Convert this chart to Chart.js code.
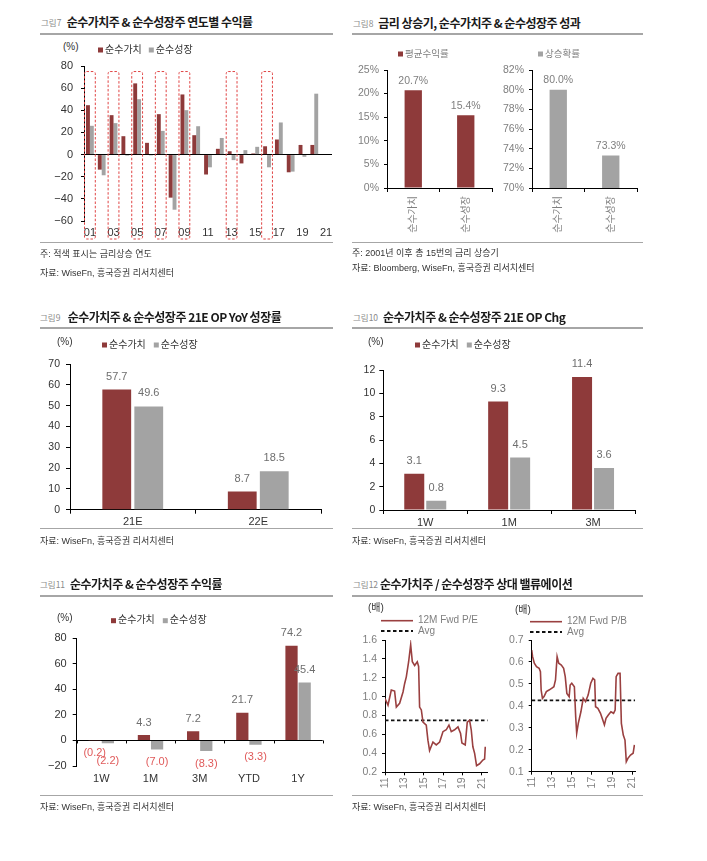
<!DOCTYPE html>
<html><head><meta charset="utf-8">
<script src="https://cdn.jsdelivr.net/npm/chart.js@4.4.0/dist/chart.umd.min.js"></script>
<style>
html,body{margin:0;padding:0;background:#fff;}
body{width:707px;height:861px;position:relative;overflow:hidden;font-family:"Liberation Sans","Noto Sans CJK KR",sans-serif;}
.t{position:absolute;white-space:nowrap;}
.fig{font-family:"Noto Sans CJK KR",sans-serif;font-size:8.5px;color:#8a8a8a;line-height:12px;height:12px;}
.ttl{font-family:"Noto Sans CJK KR",sans-serif;font-size:12px;font-weight:bold;color:#1a1a1a;line-height:16px;height:16px;letter-spacing:-0.5px;}
.note{font-family:"Liberation Sans","Noto Sans CJK KR",sans-serif;font-size:9px;color:#333;line-height:12px;height:12px;}
.unit{font-family:"Liberation Sans","Noto Sans CJK KR",sans-serif;font-size:10px;color:#333;line-height:12px;height:12px;}
.r2{position:absolute;height:2px;background:#a6a6a6;}
.r1{position:absolute;height:1px;background:#a6a6a6;}
canvas{position:absolute;}
</style></head>
<body>
<!-- Figure 7 -->
<div class="t fig" style="left:41px;top:15.7px">그림7</div>
<div class="t ttl" style="left:66.7px;top:13.7px">순수가치주 &amp; 순수성장주 연도별 수익률</div>
<div class="r2" style="left:40px;top:33.3px;width:293px"></div>
<div class="t unit" style="left:63px;top:40.7px">(%)</div>
<canvas id="c7" width="300" height="205" style="left:40px;top:40px"></canvas>
<div class="r1" style="left:40px;top:241.5px;width:293px"></div>
<div class="t note" style="left:40px;top:248.3px">주: 적색 표시는 금리상승 연도</div>
<div class="t note" style="left:40px;top:266.7px">자료: WiseFn, 흥국증권 리서치센터</div>

<!-- Figure 8 -->
<div class="t fig" style="left:353px;top:16.7px">그림8</div>
<div class="t ttl" style="left:378.3px;top:14.7px">금리 상승기, 순수가치주 &amp; 순수성장주 성과</div>
<div class="r2" style="left:352px;top:33.3px;width:291px"></div>
<canvas id="c8a" width="150" height="205" style="left:352px;top:40px"></canvas>
<canvas id="c8b" width="150" height="205" style="left:497px;top:40px"></canvas>
<div class="r1" style="left:352px;top:242px;width:291px"></div>
<div class="t note" style="left:352px;top:247.3px">주: 2001년 이후 총 15번의 금리 상승기</div>
<div class="t note" style="left:352px;top:262.3px">자료: Bloomberg, WiseFn, 흥국증권 리서치센터</div>

<!-- Figure 9 -->
<div class="t fig" style="left:40px;top:310.7px">그림9</div>
<div class="t ttl" style="left:67.7px;top:308.7px">순수가치주 &amp; 순수성장주 21E OP YoY 성장률</div>
<div class="r2" style="left:40px;top:326.7px;width:293px"></div>
<div class="t unit" style="left:57px;top:335.7px">(%)</div>
<canvas id="c9" width="295" height="200" style="left:40px;top:330px"></canvas>
<div class="r1" style="left:40px;top:527.5px;width:293px"></div>
<div class="t note" style="left:40px;top:534.7px">자료: WiseFn, 흥국증권 리서치센터</div>

<!-- Figure 10 -->
<div class="t fig" style="left:353px;top:310.7px">그림10</div>
<div class="t ttl" style="left:383px;top:308.7px">순수가치주 &amp; 순수성장주 21E OP Chg</div>
<div class="r2" style="left:352px;top:326.7px;width:291px"></div>
<div class="t unit" style="left:368px;top:335.7px">(%)</div>
<canvas id="c10" width="292" height="200" style="left:352px;top:330px"></canvas>
<div class="r1" style="left:352px;top:527.5px;width:291px"></div>
<div class="t note" style="left:352px;top:534.7px">자료: WiseFn, 흥국증권 리서치센터</div>

<!-- Figure 11 -->
<div class="t fig" style="left:40px;top:578px">그림11</div>
<div class="t ttl" style="left:70px;top:576px">순수가치주 &amp; 순수성장주 수익률</div>
<div class="r2" style="left:40px;top:594.7px;width:293px"></div>
<div class="t unit" style="left:57px;top:612px">(%)</div>
<canvas id="c11" width="295" height="190" style="left:40px;top:600px"></canvas>
<div class="r1" style="left:40px;top:795px;width:293px"></div>
<div class="t note" style="left:40px;top:801.3px">자료: WiseFn, 흥국증권 리서치센터</div>

<!-- Figure 12 -->
<div class="t fig" style="left:353px;top:578px">그림12</div>
<div class="t ttl" style="left:380px;top:576px">순수가치주 / 순수성장주 상대 밸류에이션</div>
<div class="r2" style="left:352px;top:594.7px;width:291px"></div>
<div class="t unit" style="left:368px;top:602.3px">(배)</div>
<div class="t unit" style="left:515px;top:604px">(배)</div>
<canvas id="c12a" width="145" height="195" style="left:352px;top:600px"></canvas>
<canvas id="c12b" width="150" height="195" style="left:497px;top:600px"></canvas>
<div class="r1" style="left:352px;top:795px;width:291px"></div>
<div class="t note" style="left:352px;top:801.3px">자료: WiseFn, 흥국증권 리서치센터</div>

<script>
// ---------- DATA ----------
// Figure 7: yearly returns (%)
const f7Years = ['01','02','03','04','05','06','07','08','09','10','11','12','13','14','15','16','17','18','19','20','21'];
const f7Value  = [44.6,-13.6,35.6,16.6,64.3,10.6,36.5,-38.9,54.3,17.5,-18,5.2,3,-8,1,7.5,13.6,-16,8.7,8.7,null];
const f7Growth = [26,-18.7,28.4,-1,50,-0.8,21.4,-49.8,40.1,25.6,-11.5,15,-5,4,7,-11.5,29,-15.4,-2,55,null];
const f7RateUpYears = ['01','03','05','07','09','13','16'];
const f7YTicks = [-60,-40,-20,0,20,40,60,80];

// Figure 8
const f8Cats = ['순수가치','순수성장'];
const f8AvgReturn = [20.7,15.4];
const f8UpProb = [80.0,73.3];

// Figure 9
const f9Cats = ['21E','22E'];
const f9Value = [57.7,8.7];
const f9Growth = [49.6,18.5];

// Figure 10
const f10Cats = ['1W','1M','3M'];
const f10Value = [3.1,9.3,11.4];
const f10Growth = [0.8,4.5,3.6];

// Figure 11
const f11Cats = ['1W','1M','3M','YTD','1Y'];
const f11Value = [-0.2,4.3,7.2,21.7,74.2];
const f11Growth = [-2.2,-7.0,-8.3,-3.3,45.4];

// Figure 12: relative valuation (value / growth), decimal years
const peDates = [2011.0,2011.31,2011.65,2011.99,2012.17,2012.51,2012.86,2013.03,2013.2,2013.44,2013.65,2013.82,2014.06,2014.33,2014.47,2014.57,2014.75,2014.92,2015.26,2015.43,2015.6,2015.95,2016.29,2016.64,2016.98,2017.32,2017.6,2017.84,2018.18,2018.53,2018.8,2018.94,2019.28,2019.49,2019.73,2019.9,2020.07,2020.25,2020.45,2020.76,2021.1,2021.28,2021.35];
const peValues = [0.98,0.91,1.07,1.06,0.89,0.93,1.05,1.14,1.21,1.37,1.55,1.37,1.33,1.37,1.32,0.89,0.86,0.73,0.70,0.54,0.43,0.52,0.49,0.52,0.63,0.65,0.70,0.63,0.65,0.68,0.61,0.51,0.49,0.73,0.75,0.65,0.47,0.40,0.27,0.29,0.33,0.34,0.47];
const peAvg = 0.75;
const pbDates = [2011.0,2011.09,2011.26,2011.48,2011.74,2011.87,2011.94,2012.07,2012.23,2012.46,2012.72,2012.98,2013.21,2013.37,2013.53,2013.69,2013.95,2014.18,2014.34,2014.5,2014.73,2014.83,2014.99,2015.25,2015.38,2015.48,2015.64,2015.9,2016.13,2016.36,2016.62,2016.88,2017.1,2017.27,2017.36,2017.59,2017.85,2018.08,2018.24,2018.4,2018.63,2018.89,2019.15,2019.31,2019.41,2019.6,2019.8,2019.93,2020.12,2020.29,2020.42,2020.58,2020.84,2021.1,2021.23];
const pbValues = [0.654,0.624,0.594,0.578,0.571,0.556,0.472,0.434,0.442,0.465,0.472,0.48,0.487,0.518,0.624,0.594,0.586,0.571,0.533,0.457,0.442,0.495,0.503,0.487,0.351,0.275,0.32,0.373,0.434,0.419,0.449,0.503,0.525,0.518,0.396,0.389,0.366,0.335,0.313,0.343,0.358,0.373,0.366,0.381,0.533,0.548,0.548,0.32,0.267,0.244,0.146,0.161,0.176,0.184,0.222];
const pbAvg = 0.425;
const valTickYears = [2011,2013,2015,2017,2019,2021];

// ---------- STYLE ----------
const RED = '#8E3A3A', GRAY = '#A3A3A3', LINE = '#9A4040';
const GTXT = '#7f7f7f', DTXT = '#333333', LBL = '#6e6e6e';
const FONT = '"Liberation Sans","Noto Sans CJK KR",sans-serif';

Chart.defaults.font.family = FONT;
Chart.defaults.animation = false;
Chart.defaults.responsive = false;
Chart.defaults.devicePixelRatio = 1;
Chart.defaults.plugins.legend.display = false;
Chart.defaults.plugins.tooltip.enabled = false;

// ---------- PLUGINS ----------
const legendPlugin = {
  id: 'customLegend',
  afterDraw(chart, args, o) {
    if (!o || !o.show) return;
    const ctx = chart.ctx;
    ctx.save();
    ctx.font = o.size + 'px ' + FONT;
    ctx.textBaseline = 'middle';
    ctx.textAlign = 'left';
    let x = o.x, y = o.y;
    chart.data.datasets.forEach(ds => {
      if (o.mode === 'line') {
        ctx.strokeStyle = ds.borderColor;
        ctx.lineWidth = ds.borderWidth;
        ctx.setLineDash(ds.borderDash || []);
        ctx.beginPath(); ctx.moveTo(x, y); ctx.lineTo(x + o.lineLen, y); ctx.stroke();
        ctx.setLineDash([]);
        ctx.fillStyle = o.color;
        ctx.fillText(ds.label, x + o.lineLen + o.gap, y);
        y += o.rowGap;
      } else {
        ctx.fillStyle = ds.backgroundColor;
        ctx.fillRect(x, y - o.box / 2, o.box, o.box);
        ctx.fillStyle = o.color;
        ctx.fillText(ds.label, x + o.box + o.gap, y);
        x += o.box + o.gap + ctx.measureText(ds.label).width + o.itemGap;
      }
    });
    ctx.restore();
  }
};

const valuePlugin = {
  id: 'valueLabels',
  afterDatasetsDraw(chart, args, o) {
    if (!o || !o.show) return;
    const ctx = chart.ctx;
    ctx.save();
    ctx.font = o.size + 'px ' + FONT;
    ctx.textAlign = 'center';
    ctx.textBaseline = 'middle';
    const placed = [];
    chart.data.datasets.forEach((ds, di) => {
      const meta = chart.getDatasetMeta(di);
      meta.data.forEach((el, i) => {
        const v = ds.data[i];
        if (v == null) return;
        let txt, y, color;
        if (v >= 0) { txt = v.toFixed(1) + (o.suffix || ''); y = el.y - o.offset; color = o.color; }
        else { txt = '(' + Math.abs(v).toFixed(1) + ')'; y = el.y + o.offset; color = o.negColor || o.color; }
        const w = ctx.measureText(txt).width, step = o.size * 0.75;
        placed.forEach(p => {
          if (Math.abs(p.x - el.x) < (p.w + w) / 2 && Math.abs(p.y - y) < step) {
            y = v >= 0 ? p.y - step : p.y + step;
          }
        });
        placed.push({ x: el.x, y: y, w: w });
        ctx.fillStyle = color;
        ctx.fillText(txt, el.x, y);
      });
    });
    ctx.restore();
  }
};

const boxPlugin = {
  id: 'rateBoxes',
  afterDatasetsDraw(chart, args, o) {
    if (!o || !o.years) return;
    const ctx = chart.ctx, xs = chart.scales.x, ys = chart.scales.y, ca = chart.chartArea;
    const w = (ca.right - ca.left) / chart.data.labels.length;
    const top = ys.getPixelForValue(o.topValue), bottom = ca.bottom + o.below;
    ctx.save();
    ctx.strokeStyle = o.color; ctx.lineWidth = 1; ctx.setLineDash([2.5, 1.8]);
    o.years.forEach(yr => {
      const i = chart.data.labels.indexOf(yr);
      const cx = xs.getPixelForValue(i);
      ctx.beginPath();
      if (ctx.roundRect) ctx.roundRect(cx - w / 2 + 0.5, top, w - 1, bottom - top, 2);
      else ctx.rect(cx - w / 2 + 0.5, top, w - 1, bottom - top);
      ctx.stroke();
    });
    ctx.restore();
  }
};

const zeroTickPlugin = {
  id: 'zeroTicks',
  afterDatasetsDraw(chart, args, o) {
    if (!o || !o.show) return;
    const ctx = chart.ctx, ca = chart.chartArea, ys = chart.scales.y;
    const n = chart.data.labels.length, w = (ca.right - ca.left) / n, y0 = ys.getPixelForValue(0);
    ctx.save(); ctx.strokeStyle = '#000'; ctx.lineWidth = 1;
    for (let i = 0; i <= n; i++) {
      const x = Math.round(ca.left + i * w) + 0.5;
      ctx.beginPath(); ctx.moveTo(x, y0); ctx.lineTo(x, y0 + 3); ctx.stroke();
    }
    ctx.restore();
  }
};

Chart.register(legendPlugin, valuePlugin, boxPlugin, zeroTickPlugin);

const minus = v => String(v).replace('-', '−');

// ---------- FIGURE 7 ----------
new Chart(document.getElementById('c7'), {
  type: 'bar',
  data: { labels: f7Years, datasets: [
    { label: '순수가치', data: f7Value, backgroundColor: RED, categoryPercentage: 0.66, barPercentage: 1 },
    { label: '순수성장', data: f7Growth, backgroundColor: GRAY, categoryPercentage: 0.66, barPercentage: 1 }
  ]},
  options: {
    layout: { padding: { top: 26, right: 8, bottom: 4, left: 0 } },
    scales: {
      x: { grid: { display: false, drawTicks: false }, border: { display: false },
           ticks: { autoSkip: false, maxRotation: 0, minRotation: 0, padding: 5, color: DTXT, font: { size: 11 },
                    callback: (v, i) => (i % 2 === 0 ? f7Years[i] : '') },
           afterFit: s => { s.height = 20; } },
      y: { min: f7YTicks[0], max: f7YTicks[f7YTicks.length - 1],
           afterBuildTicks: s => { s.ticks = f7YTicks.map(v => ({ value: v })); },
           ticks: { padding: 8, color: DTXT, font: { size: 11 }, callback: v => minus(v) },
           grid: { color: c => (c.tick && c.tick.value === 0 ? '#000' : 'rgba(0,0,0,0)'), tickColor: '#000', tickLength: 3 },
           border: { color: '#000' },
           afterFit: s => { s.width = 44; } }
    },
    plugins: {
      customLegend: { show: true, x: 58, y: 10, size: 10, color: DTXT, box: 5, gap: 2, itemGap: 7 },
      rateBoxes: { years: f7RateUpYears, topValue: 75, below: 18, color: '#E04545' }
    }
  }
});

// ---------- FIGURE 8 ----------
function fig8(id, label, data, color, min, max, step, lx) {
  new Chart(document.getElementById(id), {
    type: 'bar',
    data: { labels: f8Cats, datasets: [{ label: label, data: data, backgroundColor: color, categoryPercentage: 0.33, barPercentage: 1 }] },
    options: {
      layout: { padding: { top: 30, right: 10, bottom: 7, left: 0 } },
      scales: {
        x: { grid: { drawOnChartArea: false, tickLength: 4, color: '#000' }, border: { color: '#000' },
             ticks: { minRotation: 90, maxRotation: 90, padding: 4, color: GTXT, font: { size: 10 } },
             afterFit: s => { s.height = 50; } },
        y: { min: min, max: max,
             ticks: { stepSize: step, padding: 5, color: GTXT, font: { size: 10.5 }, callback: v => v + '%' },
             grid: { drawOnChartArea: false, tickLength: 3, color: '#000' }, border: { color: '#000' },
             afterFit: s => { s.width = 35; } }
      },
      plugins: {
        customLegend: { show: true, x: lx, y: 14, size: 9.5, color: GTXT, box: 5, gap: 2, itemGap: 7 },
        valueLabels: { show: true, size: 10.5, color: GTXT, offset: 9.5, suffix: '%' }
      }
    }
  });
}
fig8('c8a', '평균수익률', f8AvgReturn, RED, 0, 25, 5, 46);
fig8('c8b', '상승확률', f8UpProb, GRAY, 70, 82, 2, 41);

// ---------- FIGURES 9 / 10 ----------
function simpleBars(id, cats, v1, v2, o) {
  new Chart(document.getElementById(id), {
    type: 'bar',
    data: { labels: cats, datasets: [
      { label: '순수가치', data: v1, backgroundColor: RED, categoryPercentage: o.cat, barPercentage: o.bar },
      { label: '순수성장', data: v2, backgroundColor: GRAY, categoryPercentage: o.cat, barPercentage: o.bar }
    ]},
    options: {
      layout: { padding: o.pad },
      scales: {
        x: { grid: { drawOnChartArea: false, tickLength: 4, color: '#000' }, border: { color: '#000' },
             ticks: { padding: 2, color: DTXT, font: { size: 11 } },
             afterFit: s => { s.height = o.xh; } },
        y: { min: o.min, max: o.max,
             ticks: { stepSize: o.step, padding: o.ypad, color: DTXT, font: { size: 10.5 } },
             grid: { drawOnChartArea: false, tickLength: 4, color: '#000' }, border: { color: '#000' },
             afterFit: s => { s.width = o.yw; } }
      },
      plugins: {
        customLegend: { show: true, x: o.lx, y: o.ly, size: 10, color: DTXT, box: 5, gap: 2, itemGap: 8 },
        valueLabels: { show: true, size: 11, color: LBL, offset: 13 }
      }
    }
  });
}
simpleBars('c9', f9Cats, f9Value, f9Growth,
  { cat: 0.51, bar: 0.9, pad: { top: 34, right: 14, bottom: 4.3, left: 0 }, xh: 16, min: 0, max: 70, step: 10, ypad: 6, yw: 30, lx: 62, ly: 15 });
simpleBars('c10', f10Cats, f10Value, f10Growth,
  { cat: 0.524, bar: 0.91, pad: { top: 40, right: 9, bottom: 4, left: 0 }, xh: 16, min: 0, max: 12, step: 2, ypad: 4, yw: 31.3, lx: 63, ly: 15 });

// ---------- FIGURE 11 ----------
new Chart(document.getElementById('c11'), {
  type: 'bar',
  data: { labels: f11Cats, datasets: [
    { label: '순수가치', data: f11Value, backgroundColor: RED, categoryPercentage: 0.535, barPercentage: 0.93 },
    { label: '순수성장', data: f11Growth, backgroundColor: GRAY, categoryPercentage: 0.535, barPercentage: 0.93 }
  ]},
  options: {
    layout: { padding: { top: 38.3, right: 12.3, bottom: 4, left: 0 } },
    scales: {
      x: { grid: { display: false, drawTicks: false }, border: { display: false },
           ticks: { padding: 6, color: DTXT, font: { size: 11 } },
           afterFit: s => { s.height = 20; } },
      y: { min: -20, max: 80,
           ticks: { stepSize: 20, padding: 6, color: DTXT, font: { size: 11 }, callback: v => minus(v) },
           grid: { color: c => (c.tick && c.tick.value === 0 ? '#000' : 'rgba(0,0,0,0)'), tickColor: '#000', tickLength: 4 },
           border: { color: '#000' },
           afterFit: s => { s.width = 36.7; } }
    },
    plugins: {
      customLegend: { show: true, x: 71, y: 20.7, size: 10, color: DTXT, box: 5, gap: 2, itemGap: 8 },
      valueLabels: { show: true, size: 11, color: LBL, negColor: '#E05A5A', offset: 12.5 },
      zeroTicks: { show: true }
    }
  }
});

// ---------- FIGURE 12 ----------
function valuation(id, label, dates, values, avg, yMin, yMax, yStep, xMax, o) {
  new Chart(document.getElementById(id), {
    type: 'line',
    data: { datasets: [
      { label: label, data: dates.map((d, i) => ({ x: d, y: values[i] })), borderColor: LINE, borderWidth: 1.6, pointRadius: 0, tension: 0 },
      { label: 'Avg', data: [{ x: valTickYears[0], y: avg }, { x: xMax, y: avg }], borderColor: '#111', borderWidth: 1.8, borderDash: [3.5, 2.5], pointRadius: 0 }
    ]},
    options: {
      layout: { padding: o.pad },
      scales: {
        x: { type: 'linear', min: valTickYears[0], max: xMax,
             afterBuildTicks: s => { s.ticks = valTickYears.map(v => ({ value: v })); },
             grid: { drawOnChartArea: false, tickLength: 3, color: '#000' }, border: { color: '#000' },
             ticks: { minRotation: 90, maxRotation: 90, padding: 2, color: GTXT, font: { size: 10.5 },
                      callback: v => String(v).slice(2) },
             afterFit: s => { s.height = 19; } },
        y: { min: yMin, max: yMax,
             ticks: { stepSize: yStep, padding: 5, color: GTXT, font: { size: 10.5 }, callback: v => v.toFixed(1) },
             grid: { drawOnChartArea: false, tickLength: 3, color: '#000' }, border: { color: '#000' },
             afterFit: s => { s.width = o.yw; } }
      },
      plugins: {
        customLegend: { show: true, mode: 'line', x: o.lx, y: o.ly, lineLen: 32, gap: 5, rowGap: 10.3, size: 10, color: GTXT }
      }
    }
  });
}
valuation('c12a', '12M Fwd P/E', peDates, peValues, peAvg, 0.2, 1.6, 0.2, 2021.6,
  { pad: { top: 40, right: 9, bottom: 3.7, left: 0 }, yw: 33, lx: 29, ly: 20.7 });
valuation('c12b', '12M Fwd P/B', pbDates, pbValues, pbAvg, 0.1, 0.7, 0.1, 2021.3,
  { pad: { top: 40, right: 9.7, bottom: 4.3, left: 0 }, yw: 34.7, lx: 33, ly: 21.7 });
</script>
</body></html>
